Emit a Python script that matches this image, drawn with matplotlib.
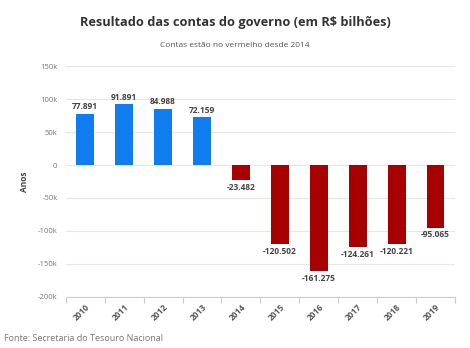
import matplotlib.pyplot as plt
from matplotlib.ticker import FuncFormatter

plt.rcParams['font.family'] = ['Open Sans', 'DejaVu Sans']

anos = ["2010", "2011", "2012", "2013", "2014", "2015", "2016", "2017", "2018", "2019"]
resultado = [77891, 91891, 84988, 72159, -23482, -120502, -161275, -124261, -120221, -95065]
rotulos = ["77.891", "91.891", "84.988", "72.159", "-23.482", "-120.502",
           "-161.275", "-124.261", "-120.221", "-95.065"]
y_ticks = [-200000, -150000, -100000, -50000, 0, 50000, 100000, 150000]

AZUL = "#0f7cf0"
VERMELHO = "#a60000"

fig = plt.figure(figsize=(4.7, 3.48), dpi=100)
ax = fig.add_axes([0.140, 0.147, 0.828, 0.663])

x = list(range(len(anos)))
cores = [AZUL if v >= 0 else VERMELHO for v in resultado]
ax.bar(x, resultado, width=0.46, color=cores, zorder=3)

for xi, v, lab in zip(x, resultado, rotulos):
    off = 4000 if v >= 0 else -4000
    ax.text(xi, v + off, lab, ha="center", va="bottom" if v >= 0 else "top",
            fontsize=6, fontweight="bold", color="#444444", zorder=4)

ax.set_xlim(-0.5, len(anos) - 0.5)
ax.set_ylim(-200000, 150000)
ax.set_yticks(y_ticks)
ax.yaxis.set_major_formatter(FuncFormatter(lambda v, p: "0" if v == 0 else f"{int(v / 1000)}k"))
ax.grid(axis="y", color="#e6e6e6", linewidth=0.8, zorder=0)

# ticks on category boundaries, labels at centers
ax.set_xticks([i - 0.5 for i in range(len(anos) + 1)], minor=False)
ax.set_xticklabels([])
ax.set_xticks(x, minor=True)
ax.set_xticklabels(anos, minor=True, rotation=45, ha="right", rotation_mode="anchor",
                   fontsize=6, fontweight="bold", color="#555555")
ax.tick_params(axis="x", which="major", length=4, color="#cccccc")
ax.tick_params(axis="x", which="minor", length=0, pad=4)
ax.tick_params(axis="y", length=0, labelsize=5.5, labelcolor="#777777", pad=6)

for s in ["top", "right", "left"]:
    ax.spines[s].set_visible(False)
ax.spines["bottom"].set_color("#cccccc")
ax.spines["bottom"].set_linewidth(0.8)

ax.set_ylabel("Anos", fontsize=6, fontweight="bold", color="#444444", labelpad=6)

fig.text(0.5, 0.935, "Resultado das contas do governo (em R$ bilhões)", ha="center", va="center",
         fontsize=9.2, fontweight="bold", color="#333333")
fig.text(0.5, 0.87, "Contas estão no vermelho desde 2014", ha="center", va="center",
         fontsize=6, color="#555555")
fig.text(0.008, 0.028, "Fonte: Secretaria do Tesouro Nacional", ha="left", va="center",
         fontsize=6.5, color="#777777")

fig.savefig("out.png", dpi=100)
